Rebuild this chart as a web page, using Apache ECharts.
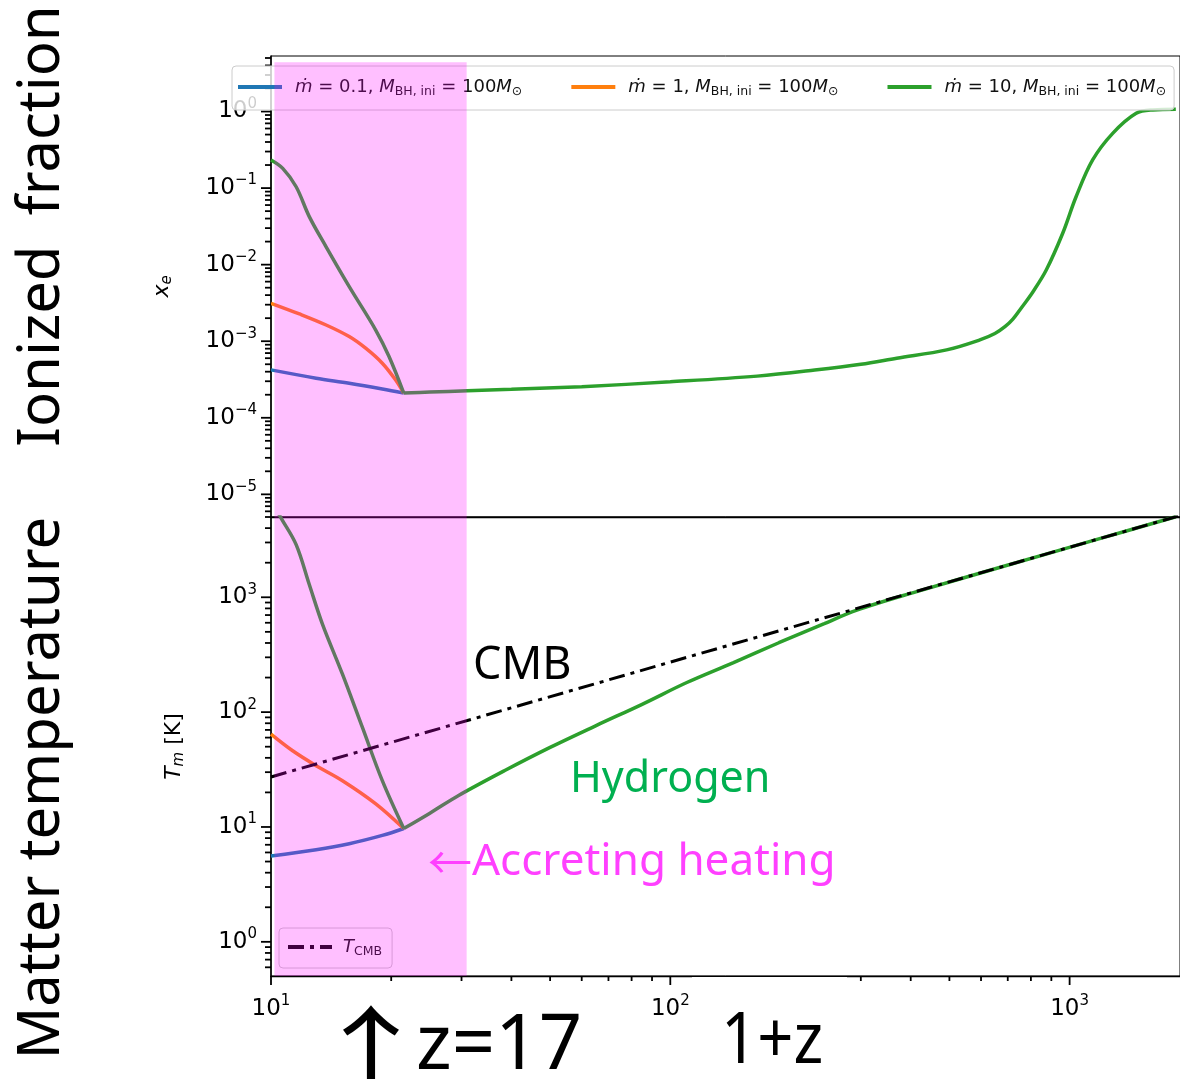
<!DOCTYPE html>
<html>
<head>
<meta charset="utf-8">
<script src="https://cdn.jsdelivr.net/npm/echarts@6/dist/echarts.min.js"></script>
<style>
html, body { margin: 0; padding: 0; background: #fff; }
#main { width: 1180px; height: 1079px; }
</style>
</head>
<body>
<div id="main"></div>
<script>
// 数据：[1+z, 值]
var xeLow = [[10, 4.22e-4], [12.97, 3.29e-4], [15.7, 2.83e-4], [19.0, 2.38e-4], [21.5, 2.1e-4]]
var xeMid = [[10, 3.13e-3], [11.78, 2.27e-3], [13.74, 1.63e-3], [15.7, 1.15e-3], [17.26, 8.1e-4],
    [19.0, 5.16e-4], [20.5, 3.13e-4], [21.5, 2.1e-4]]
var xeHigh = [[10, 0.233], [10.7, 0.181], [11.56, 0.104], [12.47, 0.0424], [13.73, 0.0172],
    [15.7, 5.16e-3], [18.29, 1.4e-3], [19.75, 6.3e-4], [21.5, 2.1e-4]]
// 三条线在 z=17 之后重合（绿色在最上面）
var xeTail = [[21.5, 2.1e-4], [25, 2.17e-4], [31, 2.25e-4], [40, 2.35e-4], [60, 2.55e-4], [100, 2.95e-4],
    [165, 3.5e-4], [230, 4.2e-4], [300, 5.0e-4], [369, 6.0e-4], [492, 7.7e-4], [596, 1.04e-3],
    [650, 1.26e-3], [690, 1.56e-3], [721, 1.94e-3], [760, 2.8e-3], [809, 4.4e-3], [874, 8.5e-3],
    [961, 0.0257], [1038, 0.077], [1142, 0.233], [1282, 0.519], [1468, 0.948], [1616, 1.05], [1845, 1.07]]

var tmLow = [[10, 5.6], [12.97, 6.34], [15.7, 7.15], [19.0, 8.44], [21.5, 9.7]]
var tmMid = [[10, 64.4], [11.33, 46.1], [12.97, 34.2], [15.1, 25.3], [18.3, 15.9], [21.5, 9.7]]
var tmHigh = [[10, 7000], [10.6, 4890], [11.56, 2873], [12.47, 1291], [13.46, 581], [15.1, 214],
    [16.94, 73.5], [19.0, 25.3], [21.5, 9.7]]
var tmTail = [[21.5, 9.7], [25, 13.2], [29.5, 18.8], [38.5, 31], [50, 49.3], [65, 76], [85, 117],
    [110, 181], [144, 270], [187, 402], [243, 590], [292, 770], [412, 1115], [698, 1900],
    [1183, 3222], [1845, 5025]]
var tCmb = [[10, 27.25], [100, 272.5], [1000, 2725], [1890, 5150]]

// 吸积加热区间 (1+z)
var heatSpan = [[10.2, 30.9]]

var seriesNames = ['m0.1', 'm1', 'm10']
var legendText = [
    '{it|ṁ} = 0.1, {it|M}{sub|BH, ini} = 100{it|M}{sub|⊙}',
    '{it|ṁ} = 1, {it|M}{sub|BH, ini} = 100{it|M}{sub|⊙}',
    '{it|ṁ} = 10, {it|M}{sub|BH, ini} = 100{it|M}{sub|⊙}',
]
var colors = ['#1f77b4', '#ff7f0e', '#2ca02c']

var xMajor = [10, 100, 1000]
var xeMajor = [1e-5, 1e-4, 1e-3, 1e-2, 1e-1, 1]
var tmMajor = [1, 10, 100, 1000]

var X_MIN = 10
var X_MAX = 1890
var XE_MIN = 5.06e-6
var XE_MAX = 5.31
var TM_MIN = 0.504
var TM_MAX = 5000

var lg = (v) => Math.log(v) / Math.LN10

// 对数轴的次刻度 2..9 × 10^k
var minorTicks = (k0, k1, lo, hi) => {
    let r = []
    for (let k = k0; k <= k1; k++) {
        for (let m = 2; m <= 9; m++) {
            let v = m * Math.pow(10, k)
            if (v >= lo && v <= hi) {
                r.push(v)
            }
        }
    }
    return r
}

var powLabel = (v) => {
    let e = Math.round(lg(v))
    return '{b|10}{s|' + (e < 0 ? '\u2212' + (-e) : e) + '}'
}

var labelRich = {
    b: { fontFamily: 'DejaVu Sans', fontSize: 23, color: '#000', lineHeight: 30 },
    s: { fontFamily: 'DejaVu Sans', fontSize: 15, color: '#000', verticalAlign: 'top', lineHeight: 18 },
}

var dataXAxis = (gridIndex, withLabels) => {
    return {
        type: 'log', gridIndex: gridIndex, min: X_MIN, max: X_MAX, position: 'bottom',
        axisLine: { show: true, onZero: false, lineStyle: { color: '#000', width: 1.3 } },
        axisTick: { show: false },
        axisLabel: { show: withLabels, customValues: xMajor, formatter: powLabel, rich: labelRich, margin: 18 },
        splitLine: { show: false },
    }
}

var dataYAxis = (gridIndex, min, max, major, name, nameGap) => {
    return {
        type: 'log', gridIndex: gridIndex, min: min, max: max, position: 'left',
        axisLine: { show: true, onZero: false, lineStyle: { color: '#000', width: 1.5 } },
        axisTick: { show: false },
        axisLabel: { customValues: major, formatter: powLabel, rich: labelRich, margin: 14 },
        splitLine: { show: false },
        name: name, nameLocation: 'middle', nameRotate: 90, nameGap: nameGap,
        nameTextStyle: {
            rich: {
                i: { fontFamily: 'DejaVu Sans', fontStyle: 'italic', fontSize: 22, color: '#000', lineHeight: 26 },
                s: { fontFamily: 'DejaVu Sans', fontStyle: 'italic', fontSize: 15, color: '#000', verticalAlign: 'bottom', lineHeight: 15 },
                r: { fontFamily: 'DejaVu Sans', fontSize: 22, color: '#000', lineHeight: 26 },
            },
        },
    }
}

var lineSeries = (name, x, y, data, color, z) => {
    return {
        name: name, type: 'line', xAxisIndex: x, yAxisIndex: y, data: data,
        symbol: 'none', smooth: 0.35, z: z,
        lineStyle: { color: color, width: 3.5 }, itemStyle: { color: color },
    }
}

var shade = (axisIndex, top) => {
    return {
        type: 'custom', xAxisIndex: axisIndex, yAxisIndex: axisIndex, data: heatSpan, z: 10, silent: true,
        encode: { x: [0, 1] },
        renderItem: (params, api) => {
            let cs = params.coordSys
            let x0 = api.coord([api.value(0), 1])[0]
            let x1 = api.coord([api.value(1), 1])[0]
            let y0 = top ? api.coord([api.value(0), top])[1] : cs.y
            return {
                type: 'rect',
                shape: { x: x0, y: y0, width: x1 - x0, height: cs.y + cs.height - y0 },
                style: { fill: 'rgba(255, 0, 255, 0.25)' },
            }
        },
    }
}

var legendRich = {
    it: { fontFamily: 'DejaVu Sans', fontStyle: 'italic', fontSize: 18, color: '#111', lineHeight: 22 },
    sub: { fontFamily: 'DejaVu Sans', fontSize: 12.5, color: '#111', verticalAlign: 'bottom', lineHeight: 14 },
}

var bigFont = 'Noto Sans'
var arrowFont = 'Noto Sans CJK SC'

var textGraphics = [
    {
        type: 'text', x: 42, y: 226, rotation: Math.PI / 2, z: 100,
        style: { text: 'Ionized  fraction', fontFamily: bigFont, fontSize: 58, fill: '#000', textAlign: 'center', textVerticalAlign: 'middle' },
    },
    {
        type: 'text', x: 42, y: 788, rotation: Math.PI / 2, z: 100,
        style: { text: 'Matter temperature', fontFamily: bigFont, fontSize: 58, fill: '#000', textAlign: 'center', textVerticalAlign: 'middle' },
    },
    {
        type: 'text', x: 473, y: 666, z: 100,
        style: { text: 'CMB', fontFamily: bigFont, fontSize: 45, fill: '#000', textAlign: 'left', textVerticalAlign: 'middle' },
    },
    {
        type: 'text', x: 570, y: 780, z: 100,
        style: { text: 'Hydrogen', fontFamily: bigFont, fontSize: 43, fill: '#00b050', textAlign: 'left', textVerticalAlign: 'middle' },
    },
    {
        type: 'text', x: 428, y: 862, z: 100,
        style: {
            text: '{a|\u2190}Accreting heating', fontFamily: bigFont, fontSize: 44, fill: '#ff40ff', textAlign: 'left', textVerticalAlign: 'middle',
            rich: { a: { fontFamily: arrowFont, fontSize: 44, fill: '#ff40ff' } },
        },
    },
    {
        type: 'text', x: 371, y: 1050, z: 100, scaleX: 1.25,
        style: { text: '\u2191', fontFamily: arrowFont, fontSize: 96, fill: '#000', textAlign: 'center', textVerticalAlign: 'middle' },
    },
    {
        type: 'text', x: 416, y: 1047, z: 100,
        style: { text: 'z=17', fontFamily: bigFont, fontSize: 76, fill: '#000', textAlign: 'left', textVerticalAlign: 'middle' },
    },
    {
        type: 'text', x: 721, y: 1042, z: 100, scaleX: 0.88,
        style: { text: '1+z', fontFamily: bigFont, fontSize: 72, fill: '#000', textAlign: 'left', textVerticalAlign: 'middle' },
    },
]

var element = document.querySelector('#main')
var chart = echarts.init(element)

chart.setOption({
    animation: false,
    backgroundColor: '#fff',
    grid: [
        { left: 271, top: 56, width: 913, height: 461, show: true, borderColor: '#000', borderWidth: 1 },
        { left: 271, top: 517, width: 913, height: 459, show: true, borderColor: '#000', borderWidth: 1 },
    ],
    xAxis: [dataXAxis(0, false), dataXAxis(1, true)],
    yAxis: [
        dataYAxis(0, XE_MIN, XE_MAX, xeMajor, '{i|x}{s|e}', 96),
        dataYAxis(1, TM_MIN, TM_MAX, tmMajor, '{i|T}{s|m}{r| [K]}', 84),
    ],
    legend: [
        {
            data: seriesNames, left: 232, top: 66, itemWidth: 44, itemHeight: 14, itemGap: 47,
            padding: [12, 8, 12, 4],
            backgroundColor: 'rgba(255,255,255,0.8)', borderColor: '#cccccc', borderWidth: 1, borderRadius: 4,
            itemStyle: { opacity: 0 }, lineStyle: { width: 4 },
            formatter: (name) => legendText[seriesNames.indexOf(name)],
            textStyle: { fontFamily: 'DejaVu Sans', fontSize: 18, color: '#111', padding: [0, 0, 0, 8], rich: legendRich },
        },
        {
            data: ['T_CMB'], left: 279, top: 928, itemWidth: 44, itemHeight: 14,
            padding: [10, 10, 10, 7],
            backgroundColor: 'rgba(255,255,255,0.8)', borderColor: '#cccccc', borderWidth: 1, borderRadius: 4,
            itemStyle: { opacity: 0 }, lineStyle: { width: 4 },
            formatter: () => '{it|T}{sub|CMB}',
            textStyle: { padding: [0, 0, 0, 6], rich: legendRich },
        },
    ],
    series: [
        lineSeries('m0.1', 0, 0, xeLow, colors[0], 2),
        lineSeries('m1', 0, 0, xeMid, colors[1], 2),
        lineSeries('m10', 0, 0, xeHigh, colors[2], 2),
        lineSeries('m10', 0, 0, xeTail, colors[2], 2),
        lineSeries('m0.1', 1, 1, tmLow, colors[0], 2),
        lineSeries('m1', 1, 1, tmMid, colors[1], 2),
        lineSeries('m10', 1, 1, tmHigh, colors[2], 2),
        lineSeries('m10', 1, 1, tmTail, colors[2], 2),
        {
            name: 'T_CMB', type: 'line', xAxisIndex: 1, yAxisIndex: 1, data: tCmb, symbol: 'none', z: 3,
            lineStyle: { color: '#000', width: 3, type: [16, 6, 4, 6] }, itemStyle: { color: '#000' },
        },
        shade(0, 4.4),
        shade(1, null),
    ],
})

// 刻度线：位置由图表自己的坐标轴换算
var tickGraphics = []
var addTicks = (gridIndex, dim, values, length, yMin) => {
    values.forEach((v) => {
        let p = chart.convertToPixel({ gridIndex: gridIndex }, dim === 'x' ? [v, yMin] : [X_MIN, v])
        let shape = dim === 'x'
            ? { x1: p[0], y1: p[1], x2: p[0], y2: p[1] + length }
            : { x1: p[0] - length, y1: p[1], x2: p[0], y2: p[1] }
        tickGraphics.push({ type: 'line', z: 3, shape: shape, style: { stroke: '#000', lineWidth: 1.8 } })
    })
}
addTicks(0, 'y', xeMajor, 10)
addTicks(0, 'y', minorTicks(-6, 0, XE_MIN, XE_MAX), 6)
addTicks(1, 'y', tmMajor, 10)
addTicks(1, 'y', minorTicks(-1, 3, TM_MIN, TM_MAX), 6)
addTicks(1, 'x', xMajor, 9, TM_MIN)
addTicks(1, 'x', minorTicks(1, 3, X_MIN, X_MAX), 5, TM_MIN)

var patch = { type: 'rect', z: 100, shape: { x: 692, y: 977, width: 155, height: 13 }, style: { fill: '#fff' } }

chart.setOption({ graphic: textGraphics.concat(tickGraphics, [patch]) })
</script>
</body>
</html>
